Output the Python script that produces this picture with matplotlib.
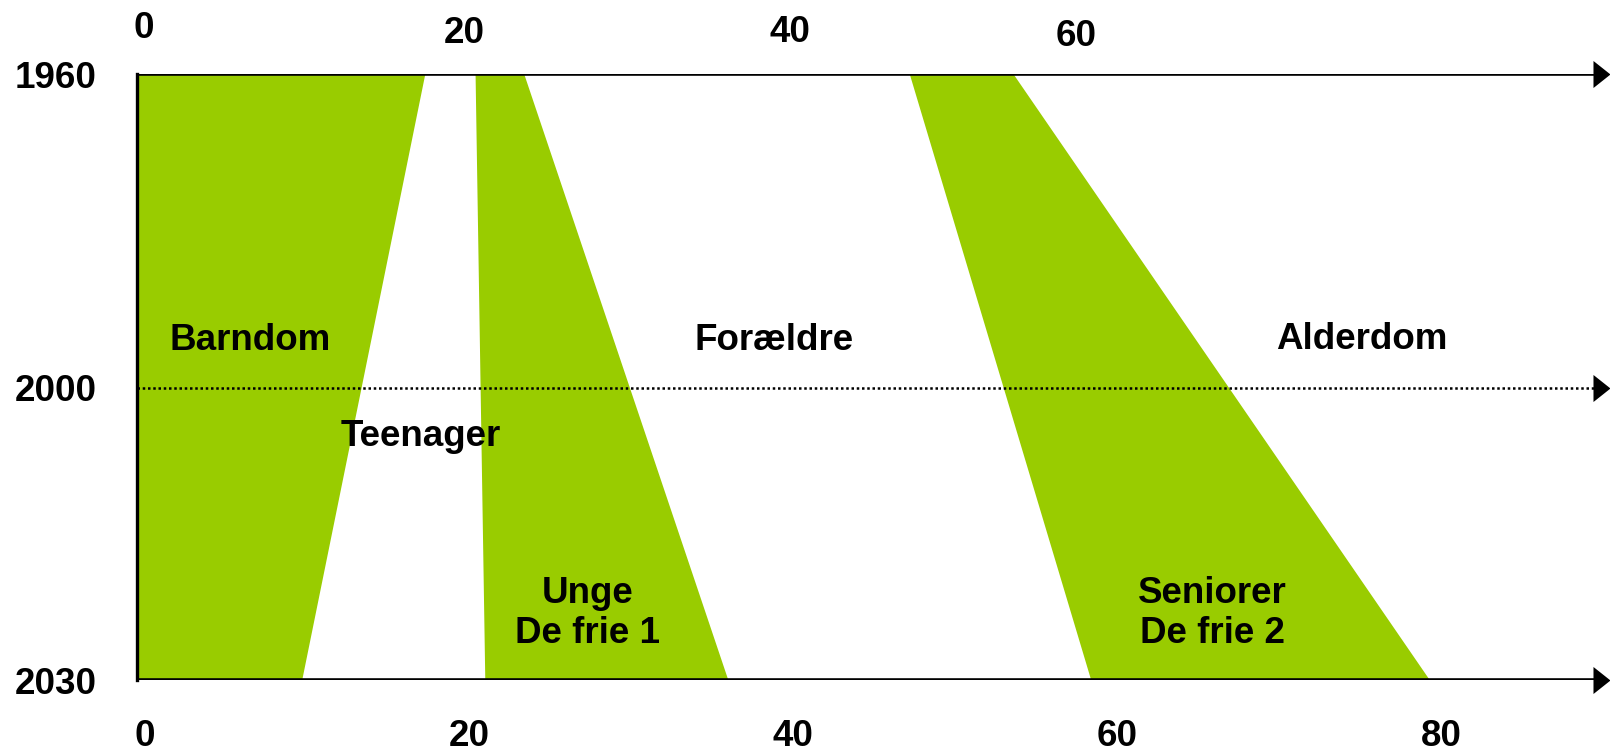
import numpy as np
import matplotlib
matplotlib.use('Agg')
import matplotlib.pyplot as plt
from matplotlib.path import Path
from matplotlib.transforms import ScaledTranslation

plt.rcParams['font.family'] = ['Liberation Sans', 'DejaVu Sans']
plt.rcParams['font.weight'] = 'bold'

# Akser: alder (x) og årstal (y)
years = [1960, 2000, 2030]
bottom_ticks = [0, 20, 40, 60, 80]
top_ticks = [0, 20, 40, 60]

# Grønne livsfaser: alder ved 1960 (top) og 2030 (bund)
band_top_left = [0, 20.9, 47.7]
band_top_right = [17.8, 23.9, 54.1]
band_bottom_left = [0, 21.5, 58.9]
band_bottom_right = [10.2, 36.5, 79.8]

# Tekster i diagrammet
labels = ['Barndom', 'Teenager', 'Forældre', 'Alderdom', 'Unge\nDe frie 1', 'Seniorer\nDe frie 2']
label_age = [7.0, 17.5, 39.3, 75.6, 27.8, 66.4]
label_year = [1994.0, 2005.0, 1994.0, 1993.8, 2023.2, 2023.2]

GREEN = '#99CC00'
FS = 26.5
X_MAX = 90.93
MID = 0.518  # placering af år 2000 mellem 1960 og 2030


def fwd(y):
    y = np.asarray(y, dtype=float)
    return np.where(y <= 2000, (y - 1960) / 40 * MID, MID + (y - 2000) / 30 * (1 - MID))


def inv(f):
    f = np.asarray(f, dtype=float)
    return np.where(f <= MID, 1960 + f / MID * 40, 2000 + (f - MID) / (1 - MID) * 30)


fig = plt.figure(figsize=(16.1, 7.52), dpi=100, facecolor='white')
ax = fig.add_axes([137 / 1610, 72 / 752, 1473 / 1610, 606 / 752])
ax.set_yscale('function', functions=(fwd, inv))
ax.set_xlim(0, X_MAX)
ax.set_ylim(2030, 1960)

# grønne felter
for tl, tr, br, bl in zip(band_top_left, band_top_right, band_bottom_right, band_bottom_left):
    ax.fill([tl, tr, br, bl], [1960, 1960, 2030, 2030], color=GREEN, lw=0, zorder=1)

# vandrette linjer med pilespids
arrow = Path([(0, 0), (-17, 13.5), (-17, -13.5), (0, 0)],
             [Path.MOVETO, Path.LINETO, Path.LINETO, Path.CLOSEPOLY])
for y in years:
    if y == 2000:
        ax.plot([0, X_MAX - 0.8], [y, y], color='black', lw=1.8, ls=(0, (1, 1.1)), zorder=3)
    else:
        ax.plot([0, X_MAX - 0.8], [y, y], color='black', lw=2.6, zorder=3, solid_capstyle='butt')
    ax.plot(X_MAX, y, marker=arrow, ms=24.5, color='black', mew=0, clip_on=False, zorder=4)

# lodret venstre kant
ax.plot([0, 0], [1960, 2030], color='black', lw=2.4, clip_on=False, zorder=3)

for s in ax.spines.values():
    s.set_visible(False)

ax.set_yticks(years, [str(y) for y in years], fontsize=FS, fontweight='bold')
ax.set_xticks(bottom_ticks, [str(t) for t in bottom_ticks], fontsize=FS, fontweight='bold')
ax.tick_params(axis='y', length=0, pad=29)
ax.tick_params(axis='x', length=0, pad=28)
ax.minorticks_off()
for lab in ax.get_xticklabels():
    lab.set_transform(lab.get_transform() + ScaledTranslation(0.08, 0, fig.dpi_scale_trans))

# øverste aldersakse (manuelt placeret)
top_x = [0.4, 20.2, 40.3, 58.0]
top_rise = [33, 29, 30, 27]
for t, x, r in zip(top_ticks, top_x, top_rise):
    ax.annotate(str(t), xy=(x, 1960), xytext=(0, r), textcoords='offset points',
                ha='center', va='center', fontsize=FS, fontweight='bold', annotation_clip=False)

for txt, x, y in zip(labels, label_age, label_year):
    ax.text(x, y, txt, ha='center', va='center', fontsize=FS, fontweight='bold',
            linespacing=1.2, zorder=5)

fig.savefig('out.png', dpi=100, facecolor='white')
